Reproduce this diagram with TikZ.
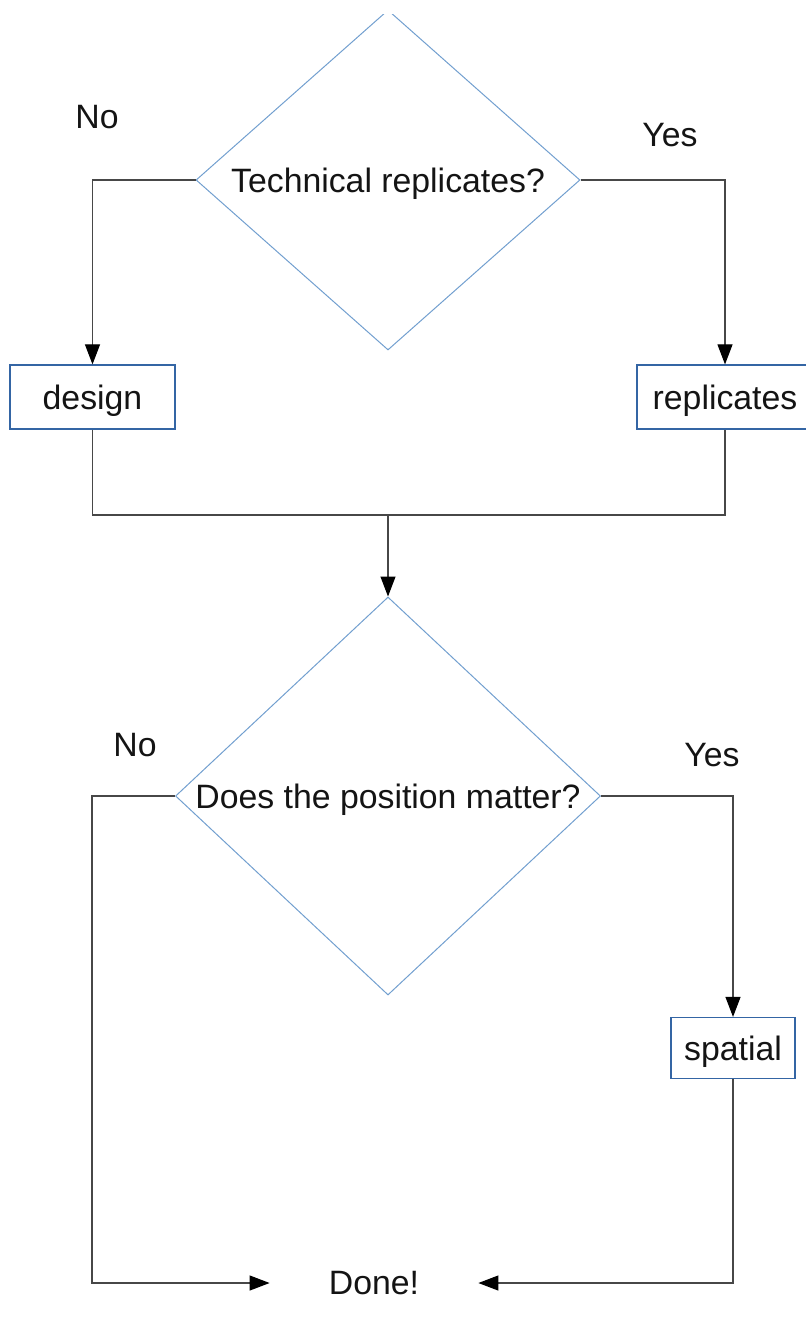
\documentclass[tikz,border=0pt]{standalone}
\usepackage{fontspec}
\setmainfont{Liberation Sans}
\usetikzlibrary{arrows.meta,positioning,shapes.geometric}
\definecolor{diaBlue}{RGB}{114,159,207}
\definecolor{boxBlue}{RGB}{52,101,164}
\colorlet{LineGray}{black!72}
\colorlet{InkBlack}{black!92}

\begin{document}
\begin{tikzpicture}[
      x=0.5pt,y=-0.5pt,
      every node/.style={font=\fontsize{16.9}{20}\selectfont,text=InkBlack},
      decision/.style={diamond,draw=diaBlue,line width=0.5pt,inner sep=0pt,align=center,text height=12.2pt,text depth=0pt},
      actbox/.style={rectangle,draw=boxBlue,line width=0.6pt,inner sep=0pt,minimum height=32pt,text height=12.2pt,text depth=0pt},
      link/.style={LineGray,line width=0.55pt},
      arr/.style={link,-{Triangle[length=10pt,width=7.5pt,color=black]}}
    ]
    \useasboundingbox (0,0) rectangle (806,1325);
    % top decision, its tip runs off the page
    \begin{scope}
      \clip (0,15) rectangle (806,1325);
      \node[decision,aspect=1.13,minimum width=192pt,minimum height=170pt] (q1) at (388,180) {Technical replicates?};
    \end{scope}
    \node[actbox,minimum width=82.5pt] (design) at (92.5,397) {design};
    \node[actbox,minimum width=88pt] (repl) at (725,397) {replicates};
    \node[decision,aspect=1.2,minimum width=212.5pt,minimum height=199pt] (q2) at (388,796) {Does the position matter?};
    \node[actbox,minimum width=62pt,minimum height=30.5pt] (spatial) at (733,1048) {spatial};
    \node[inner sep=0pt,minimum width=104pt] (done) at (374,1283) {Done!};
    \coordinate (join) at (388,515);
    \coordinate (down) at (92,1283);
    \foreach \pos/\txt [count=\i] in {{(97,117)}/No,{(670,135)}/Yes,{(135,745)}/No,{(712,755)}/Yes}{
      \node (lab\i) at \pos {\txt};
    }
    \draw[arr] (q1.west) -| (design.north);
    \draw[arr] (q1.east) -| (repl.north);
    \draw[link] (design.south) |- (join) -| (repl.south);
    \draw[arr] (join) -- (q2.north);
    \draw[arr] (q2.east) -| (spatial.north);
    \draw[arr] (q2.west) -| (down) -- (done.west);
    \draw[arr] (spatial.south) |- (done.east);
  \end{tikzpicture}
\end{document}
